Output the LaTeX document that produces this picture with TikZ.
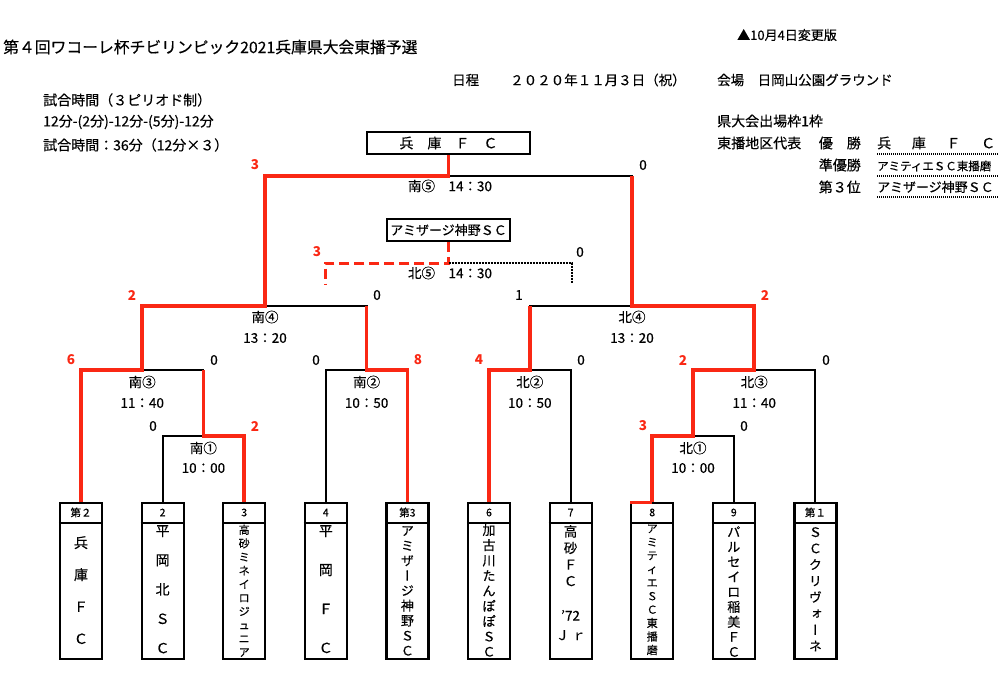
\documentclass[tikz,border=0pt]{standalone}
\usepackage{fontspec}
\setmainfont{Noto Sans CJK JP}[UprightFeatures={FakeBold=0.35}]
\newfontfamily\tate{Noto Sans CJK JP}[RawFeature={+vert},FakeBold=0.35]
\usepackage{tikz}
\definecolor{winc}{RGB}{250,40,20}

\begin{document}
\begin{tikzpicture}[x=1pt,y=-1pt,
  lose/.style={line width=2pt},
  win/.style={winc,line width=3.6pt},
  teambox/.style={draw,line width=2.2pt,minimum width=42pt,minimum height=156pt,anchor=north,inner sep=0pt},
  namebox/.style={draw,line width=2.2pt,minimum height=22pt,inner sep=0pt,font=\fontsize{13}{15}\selectfont},
  names/.style={anchor=north,align=center,inner sep=0pt},
  seed/.style={inner sep=0pt,font=\fontsize{10.5}{12}\selectfont},
  score/.style={inner sep=0pt,font=\fontsize{13.5}{15}\selectfont},
  wscore/.style={score,winc,font=\bfseries\fontsize{13.5}{15}\selectfont},
  match/.style={inner sep=0pt,font=\fontsize{13.5}{15}\selectfont},
  txt/.style={anchor=west,inner sep=0pt,font=\fontsize{14}{16}\selectfont},
  underl/.style={line width=1.6pt,dash pattern=on 1pt off 1pt}]
\useasboundingbox (0,0) rectangle (1000,699);
% heading
\node[txt,font=\fontsize{15.8}{18}\selectfont] (title) at (3,47) {第４回ワコーレ杯チビリンピック2021兵庫県大会東播予選};
\node[txt,font=\fontsize{13}{15}\selectfont] (rev) at (737,35) {▲10月4日変更版};
\node[txt,font=\fontsize{13.5}{15}\selectfont] (sched) at (452,80) {日程};
\node[txt,font=\fontsize{13.5}{15}\selectfont] (date) at (510,80) {２０２０年１１月３日（祝）};
\node[txt,font=\fontsize{13.5}{15}\selectfont] (venue) at (717,80) {会場　日岡山公園グラウンド};
% match rules
\node[txt] (rule1) at (43,100) {試合時間（３ピリオド制）};
\node[txt] (rule2) at (43,122) {12分-(2分)-12分-(5分)-12分};
\node[txt] (rule3) at (43,145) {試合時間：36分（12分×３）};
% qualifiers
\node[txt] (quota) at (717,121) {県大会出場枠1枠};
\node[txt] (rep) at (717,143) {東播地区代表};
\node[txt,anchor=east] (r1) at (861,143) {優　勝};
\node[txt,anchor=east] (r2) at (861,165) {準優勝};
\node[txt,anchor=east] (r3) at (861,187) {第３位};
\node[txt] (w1) at (877,143) {\makebox[118pt][s]{兵\hfill 庫\hfill Ｆ\hfill Ｃ}};
\node[txt,font=\fontsize{11.5}{13}\selectfont] (w2) at (877,166) {アミティエＳＣ東播磨};
\node[txt,font=\fontsize{13}{15}\selectfont] (w3) at (877,187) {アミザージ神野ＳＣ};
\draw[underl] (877,154)--(998,154);
\draw[underl] (877,176)--(998,176);
\draw[underl] (877,197)--(998,197);
% final and third place boxes
\node[namebox,minimum width=163pt,font=\fontsize{14}{16}\selectfont] (champ) at (448.5,143) {兵　庫　Ｆ　Ｃ};
\node[namebox,minimum width=123pt] (third) at (448.5,230) {アミザージ神野ＳＣ};
% team boxes
\node[teambox] (t1) at (81,502) {};
\node[teambox] (t2) at (162.6,502) {};
\node[teambox] (t3) at (244.2,502) {};
\node[teambox] (t4) at (325.8,502) {};
\node[teambox] (t5) at (407.4,502) {};
\node[teambox] (t6) at (489,502) {};
\node[teambox] (t7) at (570.6,502) {};
\node[teambox] (t8) at (652.2,502) {};
\node[teambox] (t9) at (733.8,502) {};
\node[teambox] (t10) at (815.4,502) {};
\foreach \i in {1,...,10}
  \draw[line width=2.2pt] ([yshift=-21pt]t\i.north west)--([yshift=-21pt]t\i.north east);
% seeds
\node[seed] (t1s) at (81,512.5) {第２};
\node[seed] (t2s) at (162.6,512.5) {2};
\node[seed] (t3s) at (244.2,512.5) {3};
\node[seed] (t4s) at (325.8,512.5) {4};
\node[seed] (t5s) at (407.4,512.5) {第3};
\node[seed] (t6s) at (489,512.5) {6};
\node[seed] (t7s) at (570.6,512.5) {7};
\node[seed] (t8s) at (652.2,512.5) {8};
\node[seed] (t9s) at (733.8,512.5) {9};
\node[seed] (t10s) at (815.4,512.5) {第１};
% team names
\node[names,font=\fontsize{14}{32}\selectfont] (t1n) at (81,536) {兵\\庫\\Ｆ\\Ｃ};
\node[names,font=\fontsize{14}{29.3}\selectfont] (t2n) at (162.6,525) {平\\岡\\北\\Ｓ\\Ｃ};
\node[names,font=\fontsize{11}{13.6}\selectfont] (t3n) at (244.2,524.5) {高\\砂\\ミ\\ネ\\イ\\ロ\\ジ\\ュ\\ニ\\ア};
\node[names,font=\fontsize{14}{39}\selectfont] (t4n) at (325.8,525) {平\\岡\\Ｆ\\Ｃ};
\node[names,font=\tate\fontsize{13}{15}\selectfont] (t5n) at (407.4,526) {ア\\ミ\\ザ\\ー\\ジ\\神\\野\\Ｓ\\Ｃ};
\node[names,font=\fontsize{13}{15.2}\selectfont] (t6n) at (489,524) {加\\古\\川\\た\\ん\\ぽ\\ぽ\\Ｓ\\Ｃ};
\node[names,font=\fontsize{13.5}{16.5}\selectfont] (t7n) at (570.6,525) {高\\砂\\Ｆ\\Ｃ\\[18pt]’72\\[3pt]Ｊ ｒ};
\node[names,font=\fontsize{11}{13.5}\selectfont] (t8n) at (652.2,524.5) {ア\\ミ\\テ\\ィ\\エ\\Ｓ\\Ｃ\\東\\播\\磨};
\node[names,font=\fontsize{13}{15}\selectfont] (t9n) at (733.8,526) {パ\\ル\\セ\\イ\\ロ\\稲\\美\\Ｆ\\Ｃ};
\node[names,font=\tate\fontsize{13}{16.3}\selectfont] (t10n) at (815.4,527) {Ｓ\\Ｃ\\ク\\リ\\ヴ\\ォ\\ー\\ネ};
% bracket junctions
\coordinate (s1) at (203.4,436);
\coordinate (s3) at (142.2,370);
\coordinate (s2) at (366.6,370);
\coordinate (s4) at (265,306);
\coordinate (n1) at (693,436);
\coordinate (n2) at (529.8,370);
\coordinate (n3) at (754.2,370);
\coordinate (n4) at (632,306);
\coordinate (f5) at (448.5,176);
\coordinate (b5) at (448.5,263);
\coordinate (b5l) at (325,285);
\coordinate (b5r) at (572,283);
% bracket lines
\draw[lose] (t2.north) |- (s1) -| (t3.north);
\draw[lose] (t1.north) |- (s3) -| (s1);
\draw[lose] (t4.north) |- (s2) -| (t5.north);
\draw[lose] (s3) |- (s4) -| (s2);
\draw[lose] (t6.north) |- (n2) -| (t7.north);
\draw[lose] (t8.north) |- (n1) -| (t9.north);
\draw[lose] (n1) |- (n3) -| (t10.north);
\draw[lose] (n2) |- (n4) -| (n3);
\draw[lose] (s4) |- (f5) -| (n4);
% winners
\draw[win] (t1.north) |- (s3) |- (s4) |- (f5) -- (champ.south);
\draw[win] (t3.north) |- (s1) -- (s1 |- s3);
\draw[win] (t5.north) |- (s2) -- (s2 |- s4);
\draw[win] (t6.north) |- (n2) -- (n2 |- n4);
\draw[win] (t8.north) |- (n1) |- (n3) |- (n4) -- (n4 |- f5);
\draw[win,line width=3pt] (t8.north) -- (t8.north west);
% third place match
\draw[winc,line width=3pt,dash pattern=on 10pt off 5pt] (third.south) -- (b5) -| (b5l);
\draw[line width=2pt,dash pattern=on 2pt off 1pt] (b5) -| (b5r);
% scores
\node[wscore] (sc5a) at (255,165) {3};
\node[score] (sc5b) at (643,165) {0};
\node[wscore] (nc5a) at (317,252) {3};
\node[score] (nc5b) at (580,252) {0};
\node[wscore] (sc4a) at (132,295) {2};
\node[score] (sc4b) at (377,295) {0};
\node[score] (nc4a) at (519,295) {1};
\node[wscore] (nc4b) at (765,295) {2};
\node[wscore] (sc3a) at (71,360) {6};
\node[score] (sc3b) at (214,360) {0};
\node[score] (sc2a) at (316,360) {0};
\node[wscore] (sc2b) at (418,360) {8};
\node[wscore] (nc2a) at (479,360) {4};
\node[score] (nc2b) at (581,360) {0};
\node[wscore] (nc3a) at (683,360) {2};
\node[score] (nc3b) at (826,360) {0};
\node[score] (sc1a) at (153,426) {0};
\node[wscore] (sc1b) at (255,426) {2};
\node[wscore] (nc1a) at (643,426) {3};
\node[score] (nc1b) at (744,426) {0};
% match names and times
\node[match] (m5s) at (450,186) {南⑤　14：30};
\node[match] (m5n) at (450,273) {北⑤　14：30};
\node[match] (m4s) at (265,317) {南④};
\node[match] (m4st) at (265,338) {13：20};
\node[match] (m4n) at (632,317) {北④};
\node[match] (m4nt) at (632,338) {13：20};
\node[match] (m3s) at (142.2,382) {南③};
\node[match] (m3st) at (142.2,403) {11：40};
\node[match] (m2s) at (366.6,382) {南②};
\node[match] (m2st) at (366.6,403) {10：50};
\node[match] (m2n) at (529.8,382) {北②};
\node[match] (m2nt) at (529.8,403) {10：50};
\node[match] (m3n) at (754.2,382) {北③};
\node[match] (m3nt) at (754.2,403) {11：40};
\node[match] (m1s) at (203.4,448) {南①};
\node[match] (m1st) at (203.4,468) {10：00};
\node[match] (m1n) at (693,448) {北①};
\node[match] (m1nt) at (693,468) {10：00};
\end{tikzpicture}
\end{document}
